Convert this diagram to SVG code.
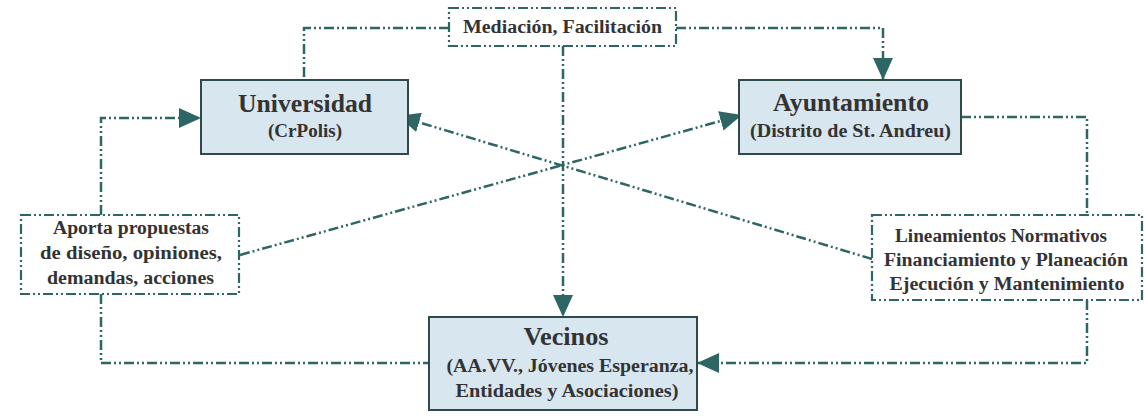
<svg xmlns="http://www.w3.org/2000/svg" width="1144" height="417" viewBox="0 0 1144 417">
<style>
.box{fill:#d8e6ef;stroke:#2f4a48;stroke-width:2}
.dbox{fill:#fff;stroke:#2e6565;stroke-width:2.2;stroke-dasharray:10 3 2 3 2 3}
.con{fill:none;stroke:#2e6565;stroke-width:2.5;stroke-dasharray:10 3 2 3 2 3}
text{font-family:"Liberation Serif","DejaVu Serif",serif;font-weight:bold;fill:#333;text-anchor:middle}
.t1{font-size:26px}
.t2{font-size:18px}
.t3{font-size:18px}
</style>
<defs>
<marker id="ah" markerUnits="userSpaceOnUse" markerWidth="24" markerHeight="20" refX="22" refY="10" orient="auto">
<path d="M0,0 L22,10 L0,20 Z" fill="#2e6565"/>
</marker>
</defs>
<g id="connectors">
<path class="con" d="M449,28 H304 V80"/>
<path class="con" d="M676,28 H883 V80" marker-end="url(#ah)"/>
<path class="con" d="M563,46 V317" marker-end="url(#ah)"/>
<path class="con" d="M240,255 L742,115" marker-end="url(#ah)"/>
<path class="con" d="M872,259 L398,116" marker-end="url(#ah)"/>
<path class="con" d="M101,215 V118 H201" marker-end="url(#ah)"/>
<path class="con" d="M101,294 V363 H429"/>
<path class="con" d="M961,117 H1087 V215"/>
<path class="con" d="M1087,300 V363 H697" marker-end="url(#ah)"/>
</g>
<g id="universidad">
<rect class="box" x="201" y="80" width="207" height="74"/>
<text class="t1" x="305" y="112" textLength="134" lengthAdjust="spacingAndGlyphs">Universidad</text>
<text class="t2" x="305" y="137" textLength="74" lengthAdjust="spacingAndGlyphs">(CrPolis)</text>
</g>
<g id="ayuntamiento">
<rect class="box" x="739" y="80" width="222" height="74"/>
<text class="t1" x="851" y="111" textLength="156" lengthAdjust="spacingAndGlyphs">Ayuntamiento</text>
<text class="t2" x="850.5" y="137" textLength="201" lengthAdjust="spacingAndGlyphs">(Distrito de St. Andreu)</text>
</g>
<g id="vecinos">
<rect class="box" x="429" y="317" width="268" height="93"/>
<text class="t1" x="566" y="345" textLength="85" lengthAdjust="spacingAndGlyphs">Vecinos</text>
<text class="t2" x="570" y="372" textLength="247" lengthAdjust="spacingAndGlyphs">(AA.VV., Jóvenes Esperanza,</text>
<text class="t2" x="567" y="397" textLength="223" lengthAdjust="spacingAndGlyphs">Entidades y Asociaciones)</text>
</g>
<g id="mediacion">
<rect class="dbox" x="449" y="8" width="227" height="38"/>
<text class="t3" x="562.5" y="33" textLength="199" lengthAdjust="spacingAndGlyphs">Mediación, Facilitación</text>
</g>
<g id="aporta">
<rect class="dbox" x="21" y="215" width="218" height="79"/>
<text class="t3" x="131" y="234" textLength="156" lengthAdjust="spacingAndGlyphs">Aporta propuestas</text>
<text class="t3" x="131" y="259" textLength="182" lengthAdjust="spacingAndGlyphs">de diseño, opiniones,</text>
<text class="t3" x="130.5" y="284" textLength="167" lengthAdjust="spacingAndGlyphs">demandas, acciones</text>
</g>
<g id="lineamientos">
<rect class="dbox" x="872" y="215" width="270" height="85"/>
<text class="t3" x="1001" y="242" textLength="212" lengthAdjust="spacingAndGlyphs">Lineamientos Normativos</text>
<text class="t3" x="1006" y="266" textLength="244" lengthAdjust="spacingAndGlyphs">Financiamiento y Planeación</text>
<text class="t3" x="1007" y="290" textLength="235" lengthAdjust="spacingAndGlyphs">Ejecución y Mantenimiento</text>
</g>
</svg>
